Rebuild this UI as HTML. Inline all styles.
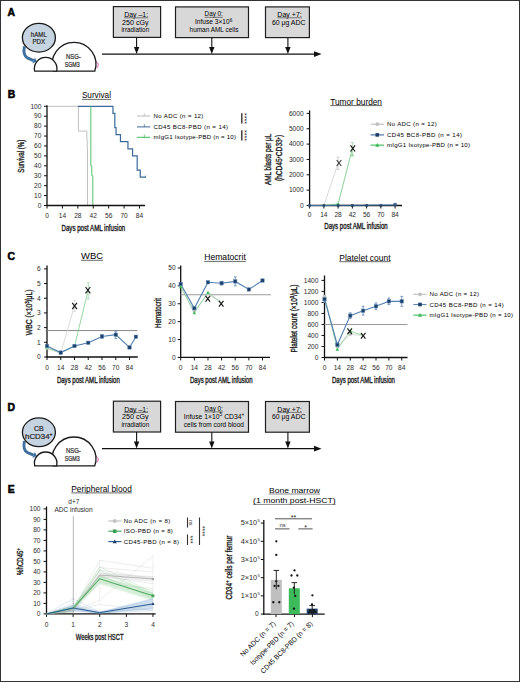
<!DOCTYPE html><html><head><meta charset="utf-8"><style>html,body{margin:0;padding:0;background:#fff;}svg{display:block;font-family:"Liberation Sans",sans-serif;}</style></head><body>
<svg width="520" height="682" viewBox="0 0 520 682">
<rect x="0" y="0" width="520" height="682" fill="#fff"/>
<text x="7.5" y="16.4" font-size="10.4" font-weight="bold" fill="#000" stroke="#000" stroke-width="0.55">A</text>
<path d="M24.4,46.4 C23.4,51.5 23.2,55.6 27.4,57.9 L33.6,60.6" fill="none" stroke="#3d6f9f" stroke-width="2.9"/>
<polygon points="32.4,63.4 34.9,57.4 36.8,61.5" fill="#3d6f9f"/>
<ellipse cx="38.9" cy="37.7" rx="16.5" ry="14.4" fill="#c6d3e0" stroke="#1a1a1a" stroke-width="1.3"/>
<text x="38.8" y="36.6" font-size="7" text-anchor="middle" textLength="16" lengthAdjust="spacingAndGlyphs" fill="#262626" stroke="#262626" stroke-width="0.2">hAML</text>
<text x="38.8" y="44.2" font-size="7" text-anchor="middle" textLength="12.7" lengthAdjust="spacingAndGlyphs" fill="#262626" stroke="#262626" stroke-width="0.2">PDX</text>
<path d="M95.6,61.6 Q100.4,63.6 96.6,68.2" fill="none" stroke="#e05cb0" stroke-width="1.0"/>
<path d="M53.22,71.2 A21.9,21.9 0 1 1 94.78,71.2 Z" fill="#fff" stroke="#1a1a1a" stroke-width="1.3"/>
<text x="73.4" y="58.8" font-size="7" text-anchor="middle" textLength="14.8" lengthAdjust="spacingAndGlyphs" fill="#262626" stroke="#262626" stroke-width="0.2">NSG-</text>
<text x="72.2" y="66.6" font-size="7" text-anchor="middle" textLength="15.1" lengthAdjust="spacingAndGlyphs" fill="#262626" stroke="#262626" stroke-width="0.2">SGM3</text>
<path d="M34.69,71.2 A11.25,11.25 0 1 1 56.61,71.2 Z" fill="#fff" stroke="#1a1a1a" stroke-width="1.3"/>
<line x1="102" y1="54.1" x2="315" y2="54.1" stroke="#111" stroke-width="1.3"/>
<polygon points="314,51.2 321.6,54.1 314,57" fill="#111"/>
<rect x="113.4" y="6.6" width="47.2" height="30.8" fill="#d8d8d8" stroke="#1e1e1e" stroke-width="1.2"/>
<line x1="136.6" y1="37.4" x2="136.6" y2="48.1" stroke="#111" stroke-width="1.1"/>
<polygon points="133.9,46.9 136.6,53.9 139.3,46.9" fill="#111"/>
<text x="136.2" y="16.9" font-size="6.5" text-anchor="middle" textLength="24" lengthAdjust="spacingAndGlyphs">Day &#8211;1:</text>
<line x1="124.2" y1="17.8" x2="148.2" y2="17.8" stroke="#333" stroke-width="0.6"/>
<text x="135.3" y="24.8" font-size="6.5" text-anchor="middle" textLength="26.6" lengthAdjust="spacingAndGlyphs">250 cGy</text>
<text x="135.3" y="32.3" font-size="6.5" text-anchor="middle" textLength="27.7" lengthAdjust="spacingAndGlyphs">irradiation</text>
<rect x="175.5" y="6.9" width="73" height="30.7" fill="#d8d8d8" stroke="#1e1e1e" stroke-width="1.2"/>
<line x1="211.8" y1="37.6" x2="211.8" y2="48.1" stroke="#111" stroke-width="1.1"/>
<polygon points="209.1,46.9 211.8,53.9 214.5,46.9" fill="#111"/>
<text x="213.7" y="16.4" font-size="6.5" text-anchor="middle" textLength="18.2" lengthAdjust="spacingAndGlyphs">Day 0:</text>
<line x1="204.6" y1="17.3" x2="222.8" y2="17.3" stroke="#333" stroke-width="0.6"/>
<text x="213.65" y="24.2" font-size="6.5" text-anchor="middle" textLength="37.3" lengthAdjust="spacingAndGlyphs">Infuse 3&#215;10<tspan font-size="4.6" dy="-2.6">6</tspan></text>
<text x="214" y="32.4" font-size="6.5" text-anchor="middle" textLength="48.8" lengthAdjust="spacingAndGlyphs">human AML cells</text>
<rect x="265.5" y="6.9" width="43.9" height="30.7" fill="#d8d8d8" stroke="#1e1e1e" stroke-width="1.2"/>
<line x1="287.9" y1="37.6" x2="287.9" y2="48.1" stroke="#111" stroke-width="1.1"/>
<polygon points="285.2,46.9 287.9,53.9 290.6,46.9" fill="#111"/>
<text x="289.6" y="16.9" font-size="6.5" text-anchor="middle" textLength="24.5" lengthAdjust="spacingAndGlyphs">Day +7:</text>
<line x1="277.35" y1="17.8" x2="301.85" y2="17.8" stroke="#333" stroke-width="0.6"/>
<text x="288.7" y="24.5" font-size="6.5" text-anchor="middle" textLength="33.5" lengthAdjust="spacingAndGlyphs">60 &#956;g ADC</text>
<text x="7.5" y="411" font-size="10.4" font-weight="bold" fill="#000" stroke="#000" stroke-width="0.55">D</text>
<path d="M24.4,441 C23.4,446.1 23.2,450.2 27.4,452.5 L33.6,455.2" fill="none" stroke="#3d6f9f" stroke-width="2.9"/>
<polygon points="32.4,458 34.9,452 36.8,456.1" fill="#3d6f9f"/>
<ellipse cx="38.9" cy="432.3" rx="16.5" ry="14.4" fill="#c6d3e0" stroke="#1a1a1a" stroke-width="1.3"/>
<text x="38.8" y="431.2" font-size="7" text-anchor="middle" fill="#262626" stroke="#262626" stroke-width="0.2">CB</text>
<text x="38.8" y="438.8" font-size="7" text-anchor="middle" textLength="27.5" lengthAdjust="spacingAndGlyphs" fill="#262626" stroke="#262626" stroke-width="0.2">hCD34<tspan font-size="4.6" dy="-2.6">+</tspan></text>
<path d="M95.6,456.2 Q100.4,458.2 96.6,462.8" fill="none" stroke="#e05cb0" stroke-width="1.0"/>
<path d="M53.22,465.8 A21.9,21.9 0 1 1 94.78,465.8 Z" fill="#fff" stroke="#1a1a1a" stroke-width="1.3"/>
<text x="73.4" y="453.4" font-size="7" text-anchor="middle" textLength="14.8" lengthAdjust="spacingAndGlyphs" fill="#262626" stroke="#262626" stroke-width="0.2">NSG-</text>
<text x="72.2" y="461.2" font-size="7" text-anchor="middle" textLength="15.1" lengthAdjust="spacingAndGlyphs" fill="#262626" stroke="#262626" stroke-width="0.2">SGM3</text>
<path d="M34.69,465.8 A11.25,11.25 0 1 1 56.61,465.8 Z" fill="#fff" stroke="#1a1a1a" stroke-width="1.3"/>
<line x1="102" y1="448.7" x2="315" y2="448.7" stroke="#111" stroke-width="1.3"/>
<polygon points="314,445.8 321.6,448.7 314,451.6" fill="#111"/>
<rect x="113.4" y="401.2" width="47.2" height="30.8" fill="#d8d8d8" stroke="#1e1e1e" stroke-width="1.2"/>
<line x1="136.6" y1="432" x2="136.6" y2="442.7" stroke="#111" stroke-width="1.1"/>
<polygon points="133.9,441.5 136.6,448.5 139.3,441.5" fill="#111"/>
<text x="136.2" y="411.5" font-size="6.5" text-anchor="middle" textLength="24" lengthAdjust="spacingAndGlyphs">Day &#8211;1:</text>
<line x1="124.2" y1="412.4" x2="148.2" y2="412.4" stroke="#333" stroke-width="0.6"/>
<text x="135.3" y="419.4" font-size="6.5" text-anchor="middle" textLength="26.6" lengthAdjust="spacingAndGlyphs">250 cGy</text>
<text x="135.3" y="426.9" font-size="6.5" text-anchor="middle" textLength="27.7" lengthAdjust="spacingAndGlyphs">irradiation</text>
<rect x="175.5" y="401.5" width="73" height="30.7" fill="#d8d8d8" stroke="#1e1e1e" stroke-width="1.2"/>
<line x1="211.8" y1="432.2" x2="211.8" y2="442.7" stroke="#111" stroke-width="1.1"/>
<polygon points="209.1,441.5 211.8,448.5 214.5,441.5" fill="#111"/>
<text x="213.7" y="411" font-size="6.5" text-anchor="middle" textLength="18.2" lengthAdjust="spacingAndGlyphs">Day 0:</text>
<line x1="204.6" y1="411.9" x2="222.8" y2="411.9" stroke="#333" stroke-width="0.6"/>
<text x="214.1" y="418.9" font-size="6.5" text-anchor="middle" textLength="60.6" lengthAdjust="spacingAndGlyphs">Infuse 1&#215;10<tspan font-size="4.6" dy="-2.6">5</tspan><tspan dy="2.6"> CD34</tspan><tspan font-size="4.6" dy="-2.6">+</tspan></text>
<text x="213.9" y="426.8" font-size="6.5" text-anchor="middle" textLength="60.2" lengthAdjust="spacingAndGlyphs">cells from cord blood</text>
<rect x="265.5" y="401.5" width="43.9" height="30.7" fill="#d8d8d8" stroke="#1e1e1e" stroke-width="1.2"/>
<line x1="287.9" y1="432.2" x2="287.9" y2="442.7" stroke="#111" stroke-width="1.1"/>
<polygon points="285.2,441.5 287.9,448.5 290.6,441.5" fill="#111"/>
<text x="289.6" y="411.5" font-size="6.5" text-anchor="middle" textLength="24.5" lengthAdjust="spacingAndGlyphs">Day +7:</text>
<line x1="277.35" y1="412.4" x2="301.85" y2="412.4" stroke="#333" stroke-width="0.6"/>
<text x="288.7" y="419.1" font-size="6.5" text-anchor="middle" textLength="33.5" lengthAdjust="spacingAndGlyphs">60 &#956;g ADC</text>
<text x="7.8" y="97.6" font-size="10.4" font-weight="bold" fill="#000" stroke="#000" stroke-width="0.55">B</text>
<text x="96.45" y="97.9" font-size="8.3" text-anchor="middle" textLength="29.1" lengthAdjust="spacingAndGlyphs">Survival</text>
<line x1="81.9" y1="99.4" x2="111" y2="99.4" stroke="#444" stroke-width="0.8"/>
<polyline points="47,106.3 78.38,106.3 78.38,131.1 86.86,131.1 86.86,139.33 87.19,139.33 87.19,147.96 87.52,147.96 87.52,205.5" fill="none" stroke="#b9b9b9" stroke-width="0.9"/>
<polyline points="77.83,106.3 112.96,106.3 112.96,113.34 114.83,113.34 114.83,127.53 116.05,127.53 116.05,134.67 120.45,134.67 120.45,141.71 127.94,141.71 127.94,148.86 132.56,148.86 132.56,155.9 137.19,155.9 137.19,170.09 140.27,170.09 140.27,177.13 145.89,177.13" fill="none" stroke="#3a6a9c" stroke-width="1.2"/>
<line x1="145.49" y1="175.63" x2="145.49" y2="177.63" stroke="#3a6a9c" stroke-width="0.7"/>
<polyline points="90.83,106.3 90.83,165.82 91.82,165.82 91.82,175.74 92.81,175.74 92.81,205.5" fill="none" stroke="#4cc065" stroke-width="0.95"/>
<line x1="47" y1="105.3" x2="47" y2="206.1" stroke="#111" stroke-width="1.3"/>
<line x1="46.4" y1="205.5" x2="145" y2="205.5" stroke="#111" stroke-width="1.3"/>
<line x1="44" y1="205.5" x2="47" y2="205.5" stroke="#111" stroke-width="1"/>
<text x="41.4" y="207.7" font-size="6.6" text-anchor="end" fill="#2a2a2a">0</text>
<line x1="44" y1="195.58" x2="47" y2="195.58" stroke="#111" stroke-width="1"/>
<text x="41.4" y="197.78" font-size="6.6" text-anchor="end" fill="#2a2a2a">10</text>
<line x1="44" y1="185.66" x2="47" y2="185.66" stroke="#111" stroke-width="1"/>
<text x="41.4" y="187.86" font-size="6.6" text-anchor="end" fill="#2a2a2a">20</text>
<line x1="44" y1="175.74" x2="47" y2="175.74" stroke="#111" stroke-width="1"/>
<text x="41.4" y="177.94" font-size="6.6" text-anchor="end" fill="#2a2a2a">30</text>
<line x1="44" y1="165.82" x2="47" y2="165.82" stroke="#111" stroke-width="1"/>
<text x="41.4" y="168.02" font-size="6.6" text-anchor="end" fill="#2a2a2a">40</text>
<line x1="44" y1="155.9" x2="47" y2="155.9" stroke="#111" stroke-width="1"/>
<text x="41.4" y="158.1" font-size="6.6" text-anchor="end" fill="#2a2a2a">50</text>
<line x1="44" y1="145.98" x2="47" y2="145.98" stroke="#111" stroke-width="1"/>
<text x="41.4" y="148.18" font-size="6.6" text-anchor="end" fill="#2a2a2a">60</text>
<line x1="44" y1="136.06" x2="47" y2="136.06" stroke="#111" stroke-width="1"/>
<text x="41.4" y="138.26" font-size="6.6" text-anchor="end" fill="#2a2a2a">70</text>
<line x1="44" y1="126.14" x2="47" y2="126.14" stroke="#111" stroke-width="1"/>
<text x="41.4" y="128.34" font-size="6.6" text-anchor="end" fill="#2a2a2a">80</text>
<line x1="44" y1="116.22" x2="47" y2="116.22" stroke="#111" stroke-width="1"/>
<text x="41.4" y="118.42" font-size="6.6" text-anchor="end" fill="#2a2a2a">90</text>
<line x1="44" y1="106.3" x2="47" y2="106.3" stroke="#111" stroke-width="1"/>
<text x="41.4" y="108.5" font-size="6.6" text-anchor="end" fill="#2a2a2a">100</text>
<line x1="47" y1="205.5" x2="47" y2="208.5" stroke="#111" stroke-width="1"/>
<text x="47" y="217.7" font-size="6.6" text-anchor="middle" fill="#2a2a2a">0</text>
<line x1="62.42" y1="205.5" x2="62.42" y2="208.5" stroke="#111" stroke-width="1"/>
<text x="62.42" y="217.7" font-size="6.6" text-anchor="middle" fill="#2a2a2a">14</text>
<line x1="77.83" y1="205.5" x2="77.83" y2="208.5" stroke="#111" stroke-width="1"/>
<text x="77.83" y="217.7" font-size="6.6" text-anchor="middle" fill="#2a2a2a">28</text>
<line x1="93.25" y1="205.5" x2="93.25" y2="208.5" stroke="#111" stroke-width="1"/>
<text x="93.25" y="217.7" font-size="6.6" text-anchor="middle" fill="#2a2a2a">42</text>
<line x1="108.67" y1="205.5" x2="108.67" y2="208.5" stroke="#111" stroke-width="1"/>
<text x="108.67" y="217.7" font-size="6.6" text-anchor="middle" fill="#2a2a2a">56</text>
<line x1="124.08" y1="205.5" x2="124.08" y2="208.5" stroke="#111" stroke-width="1"/>
<text x="124.08" y="217.7" font-size="6.6" text-anchor="middle" fill="#2a2a2a">70</text>
<line x1="139.5" y1="205.5" x2="139.5" y2="208.5" stroke="#111" stroke-width="1"/>
<text x="139.5" y="217.7" font-size="6.6" text-anchor="middle" fill="#2a2a2a">84</text>
<text x="93.35" y="231.1" font-size="8.4" text-anchor="middle" textLength="63.7" lengthAdjust="spacingAndGlyphs" fill="#1a1a1a" stroke="#1a1a1a" stroke-width="0.35">Days post AML infusion</text>
<text x="24.3" y="156.2" font-size="8.6" text-anchor="middle" textLength="33" lengthAdjust="spacingAndGlyphs" fill="#1a1a1a" transform="rotate(-90 24.3 156.2)" stroke="#1a1a1a" stroke-width="0.35">Survival (%)</text>
<line x1="137" y1="116" x2="150.3" y2="116" stroke="#b9b9b9" stroke-width="1"/>
<line x1="144.3" y1="113.4" x2="144.3" y2="116" stroke="#b9b9b9" stroke-width="0.8"/>
<text x="153.5" y="118.1" font-size="6.1" textLength="49.9" lengthAdjust="spacing">No ADC (n = 12)</text>
<line x1="137" y1="126.9" x2="150.3" y2="126.9" stroke="#3a6a9c" stroke-width="1"/>
<line x1="144.3" y1="124.3" x2="144.3" y2="126.9" stroke="#3a6a9c" stroke-width="0.8"/>
<text x="153.5" y="129" font-size="6.1" textLength="74.5" lengthAdjust="spacing">CD45 BC8-PBD (n = 14)</text>
<line x1="137" y1="137.3" x2="150.3" y2="137.3" stroke="#3dbb5a" stroke-width="1"/>
<line x1="144.3" y1="134.7" x2="144.3" y2="137.3" stroke="#3dbb5a" stroke-width="0.8"/>
<text x="153.5" y="139.4" font-size="6.1" textLength="82.5" lengthAdjust="spacing">mIgG1 Isotype-PBD (n = 10)</text>
<line x1="241.8" y1="113.3" x2="241.8" y2="123.6" stroke="#333" stroke-width="1.4"/>
<text x="242.2" y="118.5" font-size="7" text-anchor="middle" fill="#222" transform="rotate(90 242.2 118.5)">****</text>
<line x1="241.8" y1="130.2" x2="241.8" y2="140.5" stroke="#333" stroke-width="1.4"/>
<text x="242.2" y="135.5" font-size="7" text-anchor="middle" fill="#222" transform="rotate(90 242.2 135.5)">****</text>
<text x="356.1" y="104.5" font-size="8.3" text-anchor="middle" textLength="51.8" lengthAdjust="spacingAndGlyphs">Tumor burden</text>
<line x1="330.2" y1="105.6" x2="382" y2="105.6" stroke="#444" stroke-width="0.8"/>
<line x1="309.6" y1="110.4" x2="309.6" y2="206.1" stroke="#111" stroke-width="1.3"/>
<line x1="309" y1="205.5" x2="402" y2="205.5" stroke="#111" stroke-width="1.3"/>
<line x1="306.6" y1="205.5" x2="309.6" y2="205.5" stroke="#111" stroke-width="1"/>
<text x="303.6" y="207.7" font-size="6.6" text-anchor="end" fill="#2a2a2a">0</text>
<line x1="306.6" y1="190.15" x2="309.6" y2="190.15" stroke="#111" stroke-width="1"/>
<text x="303.6" y="192.35" font-size="6.6" text-anchor="end" fill="#2a2a2a">1000</text>
<line x1="306.6" y1="174.8" x2="309.6" y2="174.8" stroke="#111" stroke-width="1"/>
<text x="303.6" y="177" font-size="6.6" text-anchor="end" fill="#2a2a2a">2000</text>
<line x1="306.6" y1="159.45" x2="309.6" y2="159.45" stroke="#111" stroke-width="1"/>
<text x="303.6" y="161.65" font-size="6.6" text-anchor="end" fill="#2a2a2a">3000</text>
<line x1="306.6" y1="144.1" x2="309.6" y2="144.1" stroke="#111" stroke-width="1"/>
<text x="303.6" y="146.3" font-size="6.6" text-anchor="end" fill="#2a2a2a">4000</text>
<line x1="306.6" y1="128.75" x2="309.6" y2="128.75" stroke="#111" stroke-width="1"/>
<text x="303.6" y="130.95" font-size="6.6" text-anchor="end" fill="#2a2a2a">5000</text>
<line x1="306.6" y1="113.4" x2="309.6" y2="113.4" stroke="#111" stroke-width="1"/>
<text x="303.6" y="115.6" font-size="6.6" text-anchor="end" fill="#2a2a2a">6000</text>
<line x1="309.6" y1="205.5" x2="309.6" y2="208.5" stroke="#111" stroke-width="1"/>
<text x="309.6" y="216.6" font-size="6.6" text-anchor="middle" fill="#2a2a2a">0</text>
<line x1="323.85" y1="205.5" x2="323.85" y2="208.5" stroke="#111" stroke-width="1"/>
<text x="323.85" y="216.6" font-size="6.6" text-anchor="middle" fill="#2a2a2a">14</text>
<line x1="338.1" y1="205.5" x2="338.1" y2="208.5" stroke="#111" stroke-width="1"/>
<text x="338.1" y="216.6" font-size="6.6" text-anchor="middle" fill="#2a2a2a">28</text>
<line x1="352.35" y1="205.5" x2="352.35" y2="208.5" stroke="#111" stroke-width="1"/>
<text x="352.35" y="216.6" font-size="6.6" text-anchor="middle" fill="#2a2a2a">42</text>
<line x1="366.6" y1="205.5" x2="366.6" y2="208.5" stroke="#111" stroke-width="1"/>
<text x="366.6" y="216.6" font-size="6.6" text-anchor="middle" fill="#2a2a2a">56</text>
<line x1="380.85" y1="205.5" x2="380.85" y2="208.5" stroke="#111" stroke-width="1"/>
<text x="380.85" y="216.6" font-size="6.6" text-anchor="middle" fill="#2a2a2a">70</text>
<line x1="395.1" y1="205.5" x2="395.1" y2="208.5" stroke="#111" stroke-width="1"/>
<text x="395.1" y="216.6" font-size="6.6" text-anchor="middle" fill="#2a2a2a">84</text>
<polyline points="309.6,205.5 323.85,205.5 338.1,163.29" fill="none" stroke="#d0d0d0" stroke-width="0.8"/>
<line x1="338.1" y1="157.15" x2="338.1" y2="169.43" stroke="#c8c8c8" stroke-width="0.8"/>
<line x1="336.6" y1="157.15" x2="339.6" y2="157.15" stroke="#c8c8c8" stroke-width="0.8"/>
<line x1="336.6" y1="169.43" x2="339.6" y2="169.43" stroke="#c8c8c8" stroke-width="0.8"/>
<polyline points="309.6,205.5 323.85,205.5 338.1,203.97 352.35,148.7" fill="none" stroke="#6cc47c" stroke-width="0.8"/>
<line x1="352.35" y1="142.56" x2="352.35" y2="155.61" stroke="#9ad7a6" stroke-width="0.8"/>
<line x1="350.85" y1="142.56" x2="353.85" y2="142.56" stroke="#9ad7a6" stroke-width="0.8"/>
<line x1="350.85" y1="155.61" x2="353.85" y2="155.61" stroke="#9ad7a6" stroke-width="0.8"/>
<circle cx="309.6" cy="205.5" r="1.5" fill="#c4c4c4" stroke="none" stroke-width="1"/>
<circle cx="323.85" cy="205.5" r="1.5" fill="#c4c4c4" stroke="none" stroke-width="1"/>
<polygon points="336.3,205.37 339.9,205.37 338.1,202.16" fill="#3dbb5a"/>
<line x1="309.6" y1="205.5" x2="395.1" y2="205.04" stroke="#3f6f9f" stroke-width="1"/>
<rect x="308.3" y="204.2" width="2.6" height="2.6" fill="#23466f" stroke="none" stroke-width="1"/>
<rect x="322.55" y="204.2" width="2.6" height="2.6" fill="#23466f" stroke="none" stroke-width="1"/>
<rect x="336.8" y="204.2" width="2.6" height="2.6" fill="#23466f" stroke="none" stroke-width="1"/>
<rect x="351.05" y="204.2" width="2.6" height="2.6" fill="#23466f" stroke="none" stroke-width="1"/>
<rect x="365.3" y="204.2" width="2.6" height="2.6" fill="#23466f" stroke="none" stroke-width="1"/>
<rect x="379.55" y="204.2" width="2.6" height="2.6" fill="#23466f" stroke="none" stroke-width="1"/>
<rect x="393.6" y="203.08" width="3" height="3" fill="#23466f" stroke="none" stroke-width="1"/>
<line x1="395.1" y1="202.74" x2="395.1" y2="205.5" stroke="#5f8cbb" stroke-width="0.7"/>
<polygon points="350.75,156.15 353.95,156.15 352.35,153.25" fill="#8fd39b"/>
<path d="M336.7,160 L341.3,166 M341.3,160 L336.7,166" stroke="#333" stroke-width="1.05" fill="none"/>
<path d="M350.5,145.3 L355.1,151.5 M355.1,145.3 L350.5,151.5" stroke="#161616" stroke-width="1.15" fill="none"/>
<text x="356" y="228.8" font-size="8.4" text-anchor="middle" textLength="63.4" lengthAdjust="spacingAndGlyphs" fill="#1a1a1a" stroke="#1a1a1a" stroke-width="0.35">Days post AML infusion</text>
<text x="271.4" y="159.4" font-size="9" text-anchor="middle" textLength="51.3" lengthAdjust="spacingAndGlyphs" fill="#1a1a1a" transform="rotate(-90 271.4 159.4)" stroke="#1a1a1a" stroke-width="0.35">AML blasts per &#956;L</text>
<text x="282.2" y="158" font-size="9" text-anchor="middle" textLength="46.2" lengthAdjust="spacingAndGlyphs" fill="#1a1a1a" transform="rotate(-90 282.2 158)" stroke="#1a1a1a" stroke-width="0.35">(hCD45<tspan font-size="5" dy="-2.6">+</tspan><tspan dy="2.6">CD33</tspan><tspan font-size="5" dy="-2.6">+</tspan><tspan dy="2.6">)</tspan></text>
<line x1="370.6" y1="124.2" x2="384" y2="124.2" stroke="#bdbdbd" stroke-width="1.1"/>
<circle cx="377.3" cy="124.2" r="1.9" fill="#c0c0c0" stroke="none" stroke-width="1"/>
<text x="387" y="126.3" font-size="6.1" textLength="49.7" lengthAdjust="spacing">No ADC (n = 12)</text>
<line x1="370.6" y1="134.9" x2="384" y2="134.9" stroke="#3a6a9c" stroke-width="1.1"/>
<rect x="375.5" y="133.1" width="3.6" height="3.6" fill="#1d3f69" stroke="none" stroke-width="1"/>
<text x="387" y="137" font-size="6.1" textLength="75" lengthAdjust="spacing">CD45 BC8-PBD (n = 14)</text>
<line x1="370.6" y1="145.1" x2="384" y2="145.1" stroke="#3dbb5a" stroke-width="1.1"/>
<polygon points="375.2,146.7 379.4,146.7 377.3,143" fill="#3dbb5a"/>
<text x="387" y="147.2" font-size="6.1" textLength="83" lengthAdjust="spacing">mIgG1 Isotype-PBD (n = 10)</text>
<text x="7.5" y="259.6" font-size="10.4" font-weight="bold" fill="#000" stroke="#000" stroke-width="0.55">C</text>
<text x="92" y="259.2" font-size="8.3" text-anchor="middle" textLength="22" lengthAdjust="spacingAndGlyphs">WBC</text>
<line x1="81" y1="260.3" x2="103" y2="260.3" stroke="#444" stroke-width="0.8"/>
<line x1="47" y1="265.4" x2="47" y2="357.6" stroke="#111" stroke-width="1.3"/>
<line x1="46.4" y1="357" x2="137.8" y2="357" stroke="#111" stroke-width="1.3"/>
<line x1="44" y1="357" x2="47" y2="357" stroke="#111" stroke-width="1"/>
<text x="40.6" y="359.3" font-size="6.6" text-anchor="end" fill="#2a2a2a">0</text>
<line x1="44" y1="342.31" x2="47" y2="342.31" stroke="#111" stroke-width="1"/>
<text x="40.6" y="344.61" font-size="6.6" text-anchor="end" fill="#2a2a2a">1</text>
<line x1="44" y1="327.62" x2="47" y2="327.62" stroke="#111" stroke-width="1"/>
<text x="40.6" y="329.92" font-size="6.6" text-anchor="end" fill="#2a2a2a">2</text>
<line x1="44" y1="312.93" x2="47" y2="312.93" stroke="#111" stroke-width="1"/>
<text x="40.6" y="315.23" font-size="6.6" text-anchor="end" fill="#2a2a2a">3</text>
<line x1="44" y1="298.24" x2="47" y2="298.24" stroke="#111" stroke-width="1"/>
<text x="40.6" y="300.54" font-size="6.6" text-anchor="end" fill="#2a2a2a">4</text>
<line x1="44" y1="283.55" x2="47" y2="283.55" stroke="#111" stroke-width="1"/>
<text x="40.6" y="285.85" font-size="6.6" text-anchor="end" fill="#2a2a2a">5</text>
<line x1="44" y1="268.86" x2="47" y2="268.86" stroke="#111" stroke-width="1"/>
<text x="40.6" y="271.16" font-size="6.6" text-anchor="end" fill="#2a2a2a">6</text>
<line x1="47" y1="357" x2="47" y2="360" stroke="#111" stroke-width="1"/>
<text x="47" y="370" font-size="6.6" text-anchor="middle" fill="#2a2a2a">0</text>
<line x1="60.75" y1="357" x2="60.75" y2="360" stroke="#111" stroke-width="1"/>
<text x="60.75" y="370" font-size="6.6" text-anchor="middle" fill="#2a2a2a">14</text>
<line x1="74.5" y1="357" x2="74.5" y2="360" stroke="#111" stroke-width="1"/>
<text x="74.5" y="370" font-size="6.6" text-anchor="middle" fill="#2a2a2a">28</text>
<line x1="88.25" y1="357" x2="88.25" y2="360" stroke="#111" stroke-width="1"/>
<text x="88.25" y="370" font-size="6.6" text-anchor="middle" fill="#2a2a2a">42</text>
<line x1="102" y1="357" x2="102" y2="360" stroke="#111" stroke-width="1"/>
<text x="102" y="370" font-size="6.6" text-anchor="middle" fill="#2a2a2a">56</text>
<line x1="115.75" y1="357" x2="115.75" y2="360" stroke="#111" stroke-width="1"/>
<text x="115.75" y="370" font-size="6.6" text-anchor="middle" fill="#2a2a2a">70</text>
<line x1="129.5" y1="357" x2="129.5" y2="360" stroke="#111" stroke-width="1"/>
<text x="129.5" y="370" font-size="6.6" text-anchor="middle" fill="#2a2a2a">84</text>
<line x1="45.5" y1="330.56" x2="137.2" y2="330.56" stroke="#7a7a7a" stroke-width="0.9"/>
<polyline points="47,348.19 60.75,353.33 74.5,305.58" fill="none" stroke="#d2d2d2" stroke-width="0.8"/>
<line x1="74.5" y1="300.44" x2="74.5" y2="311.46" stroke="#d8d8d8" stroke-width="0.8"/>
<line x1="73.1" y1="300.44" x2="75.9" y2="300.44" stroke="#d8d8d8" stroke-width="0.8"/>
<line x1="73.1" y1="311.46" x2="75.9" y2="311.46" stroke="#d8d8d8" stroke-width="0.8"/>
<polyline points="47,348.19 60.75,352.59 74.5,346.42 88.25,289.87" fill="none" stroke="#7fcb8c" stroke-width="0.8"/>
<line x1="88.25" y1="282.82" x2="88.25" y2="298.97" stroke="#9ad7a6" stroke-width="0.8"/>
<line x1="86.85" y1="282.82" x2="89.65" y2="282.82" stroke="#9ad7a6" stroke-width="0.8"/>
<line x1="86.85" y1="298.97" x2="89.65" y2="298.97" stroke="#9ad7a6" stroke-width="0.8"/>
<polyline points="47,345.98 60.75,352.59 74.5,345.98 88.25,342.75 102,336.43 115.75,334.67 129.5,347.45 135.88,336.73" fill="none" stroke="#4f7fb2" stroke-width="1.1"/>
<line x1="115.75" y1="331.29" x2="115.75" y2="338.64" stroke="#5d87b3" stroke-width="0.8"/>
<line x1="114.35" y1="331.29" x2="117.15" y2="331.29" stroke="#5d87b3" stroke-width="0.8"/>
<line x1="114.35" y1="338.64" x2="117.15" y2="338.64" stroke="#5d87b3" stroke-width="0.8"/>
<line x1="102" y1="334.96" x2="102" y2="338.2" stroke="#5d87b3" stroke-width="0.8"/>
<line x1="100.6" y1="334.96" x2="103.4" y2="334.96" stroke="#5d87b3" stroke-width="0.8"/>
<line x1="100.6" y1="338.2" x2="103.4" y2="338.2" stroke="#5d87b3" stroke-width="0.8"/>
<circle cx="47" cy="348.19" r="1.6" fill="#c0c0c0" stroke="none" stroke-width="1"/>
<circle cx="60.75" cy="353.33" r="1.6" fill="#c0c0c0" stroke="none" stroke-width="1"/>
<polygon points="45.2,349.63 48.8,349.63 47,346.39" fill="#8fd09d"/>
<polygon points="58.95,354.03 62.55,354.03 60.75,350.79" fill="#8fd09d"/>
<rect x="45.3" y="344.28" width="3.4" height="3.4" fill="#1d406b" stroke="#5a86b4" stroke-width="0.5"/>
<rect x="59.05" y="350.89" width="3.4" height="3.4" fill="#1d406b" stroke="#5a86b4" stroke-width="0.5"/>
<rect x="72.8" y="344.28" width="3.4" height="3.4" fill="#1d406b" stroke="#5a86b4" stroke-width="0.5"/>
<rect x="86.55" y="341.05" width="3.4" height="3.4" fill="#1d406b" stroke="#5a86b4" stroke-width="0.5"/>
<rect x="100.3" y="334.73" width="3.4" height="3.4" fill="#1d406b" stroke="#5a86b4" stroke-width="0.5"/>
<rect x="114.05" y="332.97" width="3.4" height="3.4" fill="#1d406b" stroke="#5a86b4" stroke-width="0.5"/>
<rect x="127.8" y="345.75" width="3.4" height="3.4" fill="#1d406b" stroke="#5a86b4" stroke-width="0.5"/>
<rect x="134.18" y="335.03" width="3.4" height="3.4" fill="#1d406b" stroke="#5a86b4" stroke-width="0.5"/>
<path d="M72.2,302.8 L77,309.2 M77,302.8 L72.2,309.2" stroke="#161616" stroke-width="1.15" fill="none"/>
<path d="M85.5,287 L90.3,293.4 M90.3,287 L85.5,293.4" stroke="#161616" stroke-width="1.15" fill="none"/>
<text x="88.35" y="382.7" font-size="8.4" text-anchor="middle" textLength="62.9" lengthAdjust="spacingAndGlyphs" fill="#1a1a1a" stroke="#1a1a1a" stroke-width="0.35">Days post AML infusion</text>
<text x="31.6" y="312.4" font-size="8.6" text-anchor="middle" textLength="45.7" lengthAdjust="spacingAndGlyphs" fill="#1a1a1a" transform="rotate(-90 31.6 312.4)" stroke="#1a1a1a" stroke-width="0.35">WBC (&#215;10<tspan font-size="5.5" dy="-2.8">3</tspan><tspan dy="2.8">/&#956;L)</tspan></text>
<text x="225" y="260.3" font-size="8.3" text-anchor="middle" textLength="41.6" lengthAdjust="spacingAndGlyphs">Hematocrit</text>
<line x1="204.2" y1="261.4" x2="245.8" y2="261.4" stroke="#444" stroke-width="0.8"/>
<line x1="180.7" y1="265.5" x2="180.7" y2="358" stroke="#111" stroke-width="1.3"/>
<line x1="180.1" y1="357.4" x2="270" y2="357.4" stroke="#111" stroke-width="1.3"/>
<line x1="177.7" y1="357.4" x2="180.7" y2="357.4" stroke="#111" stroke-width="1"/>
<text x="175.6" y="359.7" font-size="6.6" text-anchor="end" fill="#2a2a2a">0</text>
<line x1="177.7" y1="339.52" x2="180.7" y2="339.52" stroke="#111" stroke-width="1"/>
<text x="175.6" y="341.82" font-size="6.6" text-anchor="end" fill="#2a2a2a">10</text>
<line x1="177.7" y1="321.64" x2="180.7" y2="321.64" stroke="#111" stroke-width="1"/>
<text x="175.6" y="323.94" font-size="6.6" text-anchor="end" fill="#2a2a2a">20</text>
<line x1="177.7" y1="303.76" x2="180.7" y2="303.76" stroke="#111" stroke-width="1"/>
<text x="175.6" y="306.06" font-size="6.6" text-anchor="end" fill="#2a2a2a">30</text>
<line x1="177.7" y1="285.88" x2="180.7" y2="285.88" stroke="#111" stroke-width="1"/>
<text x="175.6" y="288.18" font-size="6.6" text-anchor="end" fill="#2a2a2a">40</text>
<line x1="177.7" y1="268" x2="180.7" y2="268" stroke="#111" stroke-width="1"/>
<text x="175.6" y="270.3" font-size="6.6" text-anchor="end" fill="#2a2a2a">50</text>
<line x1="180.7" y1="357.4" x2="180.7" y2="360.4" stroke="#111" stroke-width="1"/>
<text x="180.7" y="370" font-size="6.6" text-anchor="middle" fill="#2a2a2a">0</text>
<line x1="194.33" y1="357.4" x2="194.33" y2="360.4" stroke="#111" stroke-width="1"/>
<text x="194.33" y="370" font-size="6.6" text-anchor="middle" fill="#2a2a2a">14</text>
<line x1="207.97" y1="357.4" x2="207.97" y2="360.4" stroke="#111" stroke-width="1"/>
<text x="207.97" y="370" font-size="6.6" text-anchor="middle" fill="#2a2a2a">28</text>
<line x1="221.6" y1="357.4" x2="221.6" y2="360.4" stroke="#111" stroke-width="1"/>
<text x="221.6" y="370" font-size="6.6" text-anchor="middle" fill="#2a2a2a">42</text>
<line x1="235.23" y1="357.4" x2="235.23" y2="360.4" stroke="#111" stroke-width="1"/>
<text x="235.23" y="370" font-size="6.6" text-anchor="middle" fill="#2a2a2a">56</text>
<line x1="248.87" y1="357.4" x2="248.87" y2="360.4" stroke="#111" stroke-width="1"/>
<text x="248.87" y="370" font-size="6.6" text-anchor="middle" fill="#2a2a2a">70</text>
<line x1="262.5" y1="357.4" x2="262.5" y2="360.4" stroke="#111" stroke-width="1"/>
<text x="262.5" y="370" font-size="6.6" text-anchor="middle" fill="#2a2a2a">84</text>
<line x1="180.7" y1="294.82" x2="271" y2="294.82" stroke="#9a9a9a" stroke-width="1.1"/>
<polyline points="180.7,285.88 194.33,310.91 207.97,293.93 221.6,302.87" fill="none" stroke="#d2d2d2" stroke-width="0.8"/>
<polyline points="180.7,286.77 194.33,312.7 207.97,292.5 221.6,302.87" fill="none" stroke="#7fcb8c" stroke-width="0.8"/>
<polyline points="180.7,284.09 194.33,308.23 207.97,282.3 221.6,283.2 235.23,281.41 248.87,289.46 262.5,280.52" fill="none" stroke="#4f7fb2" stroke-width="1.1"/>
<line x1="235.23" y1="276.94" x2="235.23" y2="285.88" stroke="#5d87b3" stroke-width="0.8"/>
<line x1="233.83" y1="276.94" x2="236.63" y2="276.94" stroke="#5d87b3" stroke-width="0.8"/>
<line x1="233.83" y1="285.88" x2="236.63" y2="285.88" stroke="#5d87b3" stroke-width="0.8"/>
<line x1="221.6" y1="281.41" x2="221.6" y2="284.99" stroke="#5d87b3" stroke-width="0.8"/>
<line x1="220.2" y1="281.41" x2="223" y2="281.41" stroke="#5d87b3" stroke-width="0.8"/>
<line x1="220.2" y1="284.99" x2="223" y2="284.99" stroke="#5d87b3" stroke-width="0.8"/>
<circle cx="180.7" cy="285.88" r="1.6" fill="#c0c0c0" stroke="none" stroke-width="1"/>
<circle cx="194.33" cy="310.91" r="1.6" fill="#c0c0c0" stroke="none" stroke-width="1"/>
<polygon points="192.53,314.14 196.13,314.14 194.33,310.9" fill="#3dbb5a"/>
<polygon points="206.17,293.94 209.77,293.94 207.97,290.7" fill="#3dbb5a"/>
<polygon points="178.9,288.21 182.5,288.21 180.7,284.97" fill="#3dbb5a"/>
<rect x="179" y="282.39" width="3.4" height="3.4" fill="#1d406b" stroke="#5a86b4" stroke-width="0.5"/>
<rect x="192.63" y="306.53" width="3.4" height="3.4" fill="#1d406b" stroke="#5a86b4" stroke-width="0.5"/>
<rect x="206.27" y="280.6" width="3.4" height="3.4" fill="#1d406b" stroke="#5a86b4" stroke-width="0.5"/>
<rect x="219.9" y="281.5" width="3.4" height="3.4" fill="#1d406b" stroke="#5a86b4" stroke-width="0.5"/>
<rect x="233.53" y="279.71" width="3.4" height="3.4" fill="#1d406b" stroke="#5a86b4" stroke-width="0.5"/>
<rect x="247.17" y="287.76" width="3.4" height="3.4" fill="#1d406b" stroke="#5a86b4" stroke-width="0.5"/>
<rect x="260.8" y="278.82" width="3.4" height="3.4" fill="#1d406b" stroke="#5a86b4" stroke-width="0.5"/>
<path d="M205.5,295.9 L210.1,301.7 M210.1,295.9 L205.5,301.7" stroke="#161616" stroke-width="1.15" fill="none"/>
<path d="M218.9,300.9 L223.5,306.7 M223.5,300.9 L218.9,306.7" stroke="#161616" stroke-width="1.15" fill="none"/>
<text x="221.25" y="382.7" font-size="8.4" text-anchor="middle" textLength="62.5" lengthAdjust="spacingAndGlyphs" fill="#1a1a1a" stroke="#1a1a1a" stroke-width="0.35">Days post AML infusion</text>
<text x="161" y="313" font-size="8.2" text-anchor="middle" textLength="30" lengthAdjust="spacingAndGlyphs" fill="#1a1a1a" transform="rotate(-90 161 313)" stroke="#1a1a1a" stroke-width="0.35">Hematocrit</text>
<text x="364.9" y="260.6" font-size="8.3" text-anchor="middle" textLength="51.2" lengthAdjust="spacingAndGlyphs">Platelet count</text>
<line x1="339.3" y1="261.7" x2="390.5" y2="261.7" stroke="#444" stroke-width="0.8"/>
<line x1="324.5" y1="275.5" x2="324.5" y2="358.1" stroke="#111" stroke-width="1.3"/>
<line x1="323.9" y1="357.5" x2="407.5" y2="357.5" stroke="#111" stroke-width="1.3"/>
<line x1="321.5" y1="357.5" x2="324.5" y2="357.5" stroke="#111" stroke-width="1"/>
<text x="318.4" y="359.8" font-size="6.6" text-anchor="end" fill="#2a2a2a">0</text>
<line x1="321.5" y1="346.49" x2="324.5" y2="346.49" stroke="#111" stroke-width="1"/>
<text x="318.4" y="348.79" font-size="6.6" text-anchor="end" fill="#2a2a2a">200</text>
<line x1="321.5" y1="335.47" x2="324.5" y2="335.47" stroke="#111" stroke-width="1"/>
<text x="318.4" y="337.77" font-size="6.6" text-anchor="end" fill="#2a2a2a">400</text>
<line x1="321.5" y1="324.46" x2="324.5" y2="324.46" stroke="#111" stroke-width="1"/>
<text x="318.4" y="326.76" font-size="6.6" text-anchor="end" fill="#2a2a2a">600</text>
<line x1="321.5" y1="313.44" x2="324.5" y2="313.44" stroke="#111" stroke-width="1"/>
<text x="318.4" y="315.74" font-size="6.6" text-anchor="end" fill="#2a2a2a">800</text>
<line x1="321.5" y1="302.43" x2="324.5" y2="302.43" stroke="#111" stroke-width="1"/>
<text x="318.4" y="304.73" font-size="6.6" text-anchor="end" fill="#2a2a2a">1000</text>
<line x1="321.5" y1="291.42" x2="324.5" y2="291.42" stroke="#111" stroke-width="1"/>
<text x="318.4" y="293.72" font-size="6.6" text-anchor="end" fill="#2a2a2a">1200</text>
<line x1="321.5" y1="280.4" x2="324.5" y2="280.4" stroke="#111" stroke-width="1"/>
<text x="318.4" y="282.7" font-size="6.6" text-anchor="end" fill="#2a2a2a">1400</text>
<line x1="324.5" y1="357.5" x2="324.5" y2="360.5" stroke="#111" stroke-width="1"/>
<text x="324.5" y="370" font-size="6.6" text-anchor="middle" fill="#2a2a2a">0</text>
<line x1="337.37" y1="357.5" x2="337.37" y2="360.5" stroke="#111" stroke-width="1"/>
<text x="337.37" y="370" font-size="6.6" text-anchor="middle" fill="#2a2a2a">14</text>
<line x1="350.25" y1="357.5" x2="350.25" y2="360.5" stroke="#111" stroke-width="1"/>
<text x="350.25" y="370" font-size="6.6" text-anchor="middle" fill="#2a2a2a">28</text>
<line x1="363.12" y1="357.5" x2="363.12" y2="360.5" stroke="#111" stroke-width="1"/>
<text x="363.12" y="370" font-size="6.6" text-anchor="middle" fill="#2a2a2a">42</text>
<line x1="376" y1="357.5" x2="376" y2="360.5" stroke="#111" stroke-width="1"/>
<text x="376" y="370" font-size="6.6" text-anchor="middle" fill="#2a2a2a">56</text>
<line x1="388.87" y1="357.5" x2="388.87" y2="360.5" stroke="#111" stroke-width="1"/>
<text x="388.87" y="370" font-size="6.6" text-anchor="middle" fill="#2a2a2a">70</text>
<line x1="401.75" y1="357.5" x2="401.75" y2="360.5" stroke="#111" stroke-width="1"/>
<text x="401.75" y="370" font-size="6.6" text-anchor="middle" fill="#2a2a2a">84</text>
<line x1="324.5" y1="324.46" x2="407.5" y2="324.46" stroke="#9a9a9a" stroke-width="1.1"/>
<polyline points="324.5,296.37 337.37,346.49 350.25,334.37 363.12,335.47" fill="none" stroke="#d2d2d2" stroke-width="0.8"/>
<polyline points="324.5,296.92 337.37,349.24 350.25,331.07 363.12,335.47" fill="none" stroke="#7fcb8c" stroke-width="0.8"/>
<polyline points="324.5,299.13 337.37,344.83 350.25,315.65 363.12,310.69 376,306.28 388.87,301.33 401.75,301.33" fill="none" stroke="#4f7fb2" stroke-width="1.1"/>
<line x1="324.5" y1="295.82" x2="324.5" y2="302.43" stroke="#5d87b3" stroke-width="0.8"/>
<line x1="323.1" y1="295.82" x2="325.9" y2="295.82" stroke="#5d87b3" stroke-width="0.8"/>
<line x1="323.1" y1="302.43" x2="325.9" y2="302.43" stroke="#5d87b3" stroke-width="0.8"/>
<line x1="337.37" y1="342.63" x2="337.37" y2="347.04" stroke="#5d87b3" stroke-width="0.8"/>
<line x1="335.97" y1="342.63" x2="338.77" y2="342.63" stroke="#5d87b3" stroke-width="0.8"/>
<line x1="335.97" y1="347.04" x2="338.77" y2="347.04" stroke="#5d87b3" stroke-width="0.8"/>
<line x1="350.25" y1="312.89" x2="350.25" y2="318.4" stroke="#5d87b3" stroke-width="0.8"/>
<line x1="348.85" y1="312.89" x2="351.65" y2="312.89" stroke="#5d87b3" stroke-width="0.8"/>
<line x1="348.85" y1="318.4" x2="351.65" y2="318.4" stroke="#5d87b3" stroke-width="0.8"/>
<line x1="363.12" y1="306.28" x2="363.12" y2="315.1" stroke="#5d87b3" stroke-width="0.8"/>
<line x1="361.72" y1="306.28" x2="364.52" y2="306.28" stroke="#5d87b3" stroke-width="0.8"/>
<line x1="361.72" y1="315.1" x2="364.52" y2="315.1" stroke="#5d87b3" stroke-width="0.8"/>
<line x1="376" y1="302.98" x2="376" y2="309.59" stroke="#5d87b3" stroke-width="0.8"/>
<line x1="374.6" y1="302.98" x2="377.4" y2="302.98" stroke="#5d87b3" stroke-width="0.8"/>
<line x1="374.6" y1="309.59" x2="377.4" y2="309.59" stroke="#5d87b3" stroke-width="0.8"/>
<line x1="388.87" y1="298.02" x2="388.87" y2="304.63" stroke="#5d87b3" stroke-width="0.8"/>
<line x1="387.47" y1="298.02" x2="390.27" y2="298.02" stroke="#5d87b3" stroke-width="0.8"/>
<line x1="387.47" y1="304.63" x2="390.27" y2="304.63" stroke="#5d87b3" stroke-width="0.8"/>
<line x1="401.75" y1="296.37" x2="401.75" y2="306.28" stroke="#5d87b3" stroke-width="0.8"/>
<line x1="400.35" y1="296.37" x2="403.15" y2="296.37" stroke="#5d87b3" stroke-width="0.8"/>
<line x1="400.35" y1="306.28" x2="403.15" y2="306.28" stroke="#5d87b3" stroke-width="0.8"/>
<circle cx="324.5" cy="296.37" r="1.6" fill="#c0c0c0" stroke="none" stroke-width="1"/>
<circle cx="337.37" cy="346.49" r="1.6" fill="#c0c0c0" stroke="none" stroke-width="1"/>
<circle cx="350.25" cy="334.37" r="1.6" fill="#c0c0c0" stroke="none" stroke-width="1"/>
<polygon points="335.57,350.68 339.17,350.68 337.37,347.44" fill="#3dbb5a"/>
<polygon points="348.45,332.51 352.05,332.51 350.25,329.27" fill="#3dbb5a"/>
<rect x="322.8" y="297.43" width="3.4" height="3.4" fill="#1d406b" stroke="#5a86b4" stroke-width="0.5"/>
<rect x="335.67" y="343.13" width="3.4" height="3.4" fill="#1d406b" stroke="#5a86b4" stroke-width="0.5"/>
<rect x="348.55" y="313.95" width="3.4" height="3.4" fill="#1d406b" stroke="#5a86b4" stroke-width="0.5"/>
<rect x="361.42" y="308.99" width="3.4" height="3.4" fill="#1d406b" stroke="#5a86b4" stroke-width="0.5"/>
<rect x="374.3" y="304.58" width="3.4" height="3.4" fill="#1d406b" stroke="#5a86b4" stroke-width="0.5"/>
<rect x="387.17" y="299.63" width="3.4" height="3.4" fill="#1d406b" stroke="#5a86b4" stroke-width="0.5"/>
<rect x="400.05" y="299.63" width="3.4" height="3.4" fill="#1d406b" stroke="#5a86b4" stroke-width="0.5"/>
<path d="M347.4,328.35 L352,334.15 M352,328.35 L347.4,334.15" stroke="#161616" stroke-width="1.15" fill="none"/>
<path d="M360.9,332.9 L365.5,338.7 M365.5,332.9 L360.9,338.7" stroke="#161616" stroke-width="1.15" fill="none"/>
<text x="363.45" y="382.7" font-size="8.4" text-anchor="middle" textLength="63.1" lengthAdjust="spacingAndGlyphs" fill="#1a1a1a" stroke="#1a1a1a" stroke-width="0.35">Days post AML infusion</text>
<text x="297.2" y="318.5" font-size="8.6" text-anchor="middle" textLength="68" lengthAdjust="spacingAndGlyphs" fill="#1a1a1a" transform="rotate(-90 297.2 318.5)" stroke="#1a1a1a" stroke-width="0.35">Platelet count (&#215;10<tspan font-size="5.5" dy="-2.8">3</tspan><tspan dy="2.8">/&#956;L)</tspan></text>
<line x1="413.4" y1="294.3" x2="426.5" y2="294.3" stroke="#bdbdbd" stroke-width="1.1"/>
<circle cx="420" cy="294.3" r="1.9" fill="#c0c0c0" stroke="none" stroke-width="1"/>
<text x="429.5" y="296.4" font-size="6.1" textLength="49.5" lengthAdjust="spacing">No ADC (n = 12)</text>
<line x1="413.4" y1="304.5" x2="426.5" y2="304.5" stroke="#5d87b3" stroke-width="1.1"/>
<rect x="418.2" y="302.7" width="3.6" height="3.6" fill="#1d3f69" stroke="none" stroke-width="1"/>
<text x="429.5" y="306.6" font-size="6.1" textLength="74.3" lengthAdjust="spacing">CD45 BC8-PBD (n = 14)</text>
<line x1="413.4" y1="315.1" x2="426.5" y2="315.1" stroke="#3dbb5a" stroke-width="1.1"/>
<polygon points="417.9,316.7 422.1,316.7 420,313" fill="#3dbb5a"/>
<text x="429.5" y="317.2" font-size="6.1" textLength="83.5" lengthAdjust="spacing">mIgG1 Isotype-PBD (n = 10)</text>
<text x="7.8" y="492.8" font-size="10.4" font-weight="bold" fill="#000" stroke="#000" stroke-width="0.55">E</text>
<text x="101.55" y="491.8" font-size="8.3" text-anchor="middle" textLength="60.5" lengthAdjust="spacingAndGlyphs">Peripheral blood</text>
<line x1="71.3" y1="492.9" x2="131.8" y2="492.9" stroke="#444" stroke-width="0.8"/>
<text x="73.8" y="503.6" font-size="6.4" text-anchor="middle" textLength="11" lengthAdjust="spacingAndGlyphs" fill="#2a2a2a">d+7</text>
<text x="73.5" y="511.8" font-size="6.4" text-anchor="middle" textLength="38" lengthAdjust="spacingAndGlyphs" fill="#2a2a2a">ADC infusion</text>
<line x1="46.5" y1="506.5" x2="46.5" y2="614.5" stroke="#111" stroke-width="1.3"/>
<line x1="45.9" y1="613.9" x2="155.6" y2="613.9" stroke="#111" stroke-width="1.3"/>
<line x1="43.5" y1="613.9" x2="46.5" y2="613.9" stroke="#111" stroke-width="1"/>
<text x="40.5" y="616.2" font-size="6.6" text-anchor="end" fill="#2a2a2a">0</text>
<line x1="43.5" y1="603.4" x2="46.5" y2="603.4" stroke="#111" stroke-width="1"/>
<text x="40.5" y="605.7" font-size="6.6" text-anchor="end" fill="#2a2a2a">10</text>
<line x1="43.5" y1="592.9" x2="46.5" y2="592.9" stroke="#111" stroke-width="1"/>
<text x="40.5" y="595.2" font-size="6.6" text-anchor="end" fill="#2a2a2a">20</text>
<line x1="43.5" y1="582.4" x2="46.5" y2="582.4" stroke="#111" stroke-width="1"/>
<text x="40.5" y="584.7" font-size="6.6" text-anchor="end" fill="#2a2a2a">30</text>
<line x1="43.5" y1="571.9" x2="46.5" y2="571.9" stroke="#111" stroke-width="1"/>
<text x="40.5" y="574.2" font-size="6.6" text-anchor="end" fill="#2a2a2a">40</text>
<line x1="43.5" y1="561.4" x2="46.5" y2="561.4" stroke="#111" stroke-width="1"/>
<text x="40.5" y="563.7" font-size="6.6" text-anchor="end" fill="#2a2a2a">50</text>
<line x1="43.5" y1="550.9" x2="46.5" y2="550.9" stroke="#111" stroke-width="1"/>
<text x="40.5" y="553.2" font-size="6.6" text-anchor="end" fill="#2a2a2a">60</text>
<line x1="43.5" y1="540.4" x2="46.5" y2="540.4" stroke="#111" stroke-width="1"/>
<text x="40.5" y="542.7" font-size="6.6" text-anchor="end" fill="#2a2a2a">70</text>
<line x1="43.5" y1="529.9" x2="46.5" y2="529.9" stroke="#111" stroke-width="1"/>
<text x="40.5" y="532.2" font-size="6.6" text-anchor="end" fill="#2a2a2a">80</text>
<line x1="43.5" y1="519.4" x2="46.5" y2="519.4" stroke="#111" stroke-width="1"/>
<text x="40.5" y="521.7" font-size="6.6" text-anchor="end" fill="#2a2a2a">90</text>
<line x1="43.5" y1="508.9" x2="46.5" y2="508.9" stroke="#111" stroke-width="1"/>
<text x="40.5" y="511.2" font-size="6.6" text-anchor="end" fill="#2a2a2a">100</text>
<line x1="46.5" y1="613.9" x2="46.5" y2="616.9" stroke="#111" stroke-width="1"/>
<text x="46.5" y="626.6" font-size="6.6" text-anchor="middle" fill="#2a2a2a">0</text>
<line x1="73.12" y1="613.9" x2="73.12" y2="616.9" stroke="#111" stroke-width="1"/>
<text x="73.12" y="626.6" font-size="6.6" text-anchor="middle" fill="#2a2a2a">1</text>
<line x1="99.74" y1="613.9" x2="99.74" y2="616.9" stroke="#111" stroke-width="1"/>
<text x="99.74" y="626.6" font-size="6.6" text-anchor="middle" fill="#2a2a2a">2</text>
<line x1="126.36" y1="613.9" x2="126.36" y2="616.9" stroke="#111" stroke-width="1"/>
<text x="126.36" y="626.6" font-size="6.6" text-anchor="middle" fill="#2a2a2a">3</text>
<line x1="152.98" y1="613.9" x2="152.98" y2="616.9" stroke="#111" stroke-width="1"/>
<text x="152.98" y="626.6" font-size="6.6" text-anchor="middle" fill="#2a2a2a">4</text>
<line x1="73.3" y1="516" x2="73.3" y2="613.9" stroke="#999" stroke-width="0.7"/>
<polyline points="46.5,613.9 73.12,609.7 99.74,560.35 152.98,568.23" fill="none" stroke="#a0a0a0" stroke-width="0.6" stroke-opacity="0.32"/>
<polyline points="46.5,613.9 73.12,607.6 99.74,567.7 152.98,571.9" fill="none" stroke="#a0a0a0" stroke-width="0.6" stroke-opacity="0.32"/>
<polyline points="46.5,613.9 73.12,610.75 99.74,573.58 152.98,577.15" fill="none" stroke="#a0a0a0" stroke-width="0.6" stroke-opacity="0.32"/>
<polyline points="46.5,613.9 73.12,608.65 99.74,576.1 152.98,583.55" fill="none" stroke="#a0a0a0" stroke-width="0.6" stroke-opacity="0.32"/>
<polyline points="46.5,613.9 73.12,611.8 99.74,599.83 152.98,556.15" fill="none" stroke="#a0a0a0" stroke-width="0.6" stroke-opacity="0.32"/>
<polyline points="46.5,613.9 73.12,609.7 99.74,569.8 152.98,578.93" fill="none" stroke="#a0a0a0" stroke-width="0.6" stroke-opacity="0.32"/>
<polyline points="46.5,613.9 73.12,610.75 99.74,604.45 152.98,610.75" fill="none" stroke="#a0a0a0" stroke-width="0.6" stroke-opacity="0.32"/>
<polyline points="46.5,613.9 73.12,611.8 99.74,582.4 152.98,588.7" fill="none" stroke="#a0a0a0" stroke-width="0.6" stroke-opacity="0.32"/>
<polyline points="46.5,613.9 73.12,608.65 99.74,566.65 152.98,592.9" fill="none" stroke="#6fc27d" stroke-width="0.6" stroke-opacity="0.4"/>
<polyline points="46.5,613.9 73.12,607.6 99.74,570.85 152.98,595" fill="none" stroke="#6fc27d" stroke-width="0.6" stroke-opacity="0.4"/>
<polyline points="46.5,613.9 73.12,610.75 99.74,575.05 152.98,598.15" fill="none" stroke="#6fc27d" stroke-width="0.6" stroke-opacity="0.4"/>
<polyline points="46.5,613.9 73.12,605.5 99.74,577.15 152.98,590.8" fill="none" stroke="#6fc27d" stroke-width="0.6" stroke-opacity="0.4"/>
<polyline points="46.5,613.9 73.12,609.7 99.74,582.4 152.98,599.2" fill="none" stroke="#6fc27d" stroke-width="0.6" stroke-opacity="0.4"/>
<polyline points="46.5,613.9 73.12,608.65 99.74,579.25 152.98,596.05" fill="none" stroke="#6fc27d" stroke-width="0.6" stroke-opacity="0.4"/>
<polyline points="46.5,613.9 73.12,606.55 99.74,583.45 152.98,600.25" fill="none" stroke="#6fc27d" stroke-width="0.6" stroke-opacity="0.4"/>
<polyline points="46.5,613.9 73.12,611.8 99.74,569.8 152.98,593.95" fill="none" stroke="#6fc27d" stroke-width="0.6" stroke-opacity="0.4"/>
<polyline points="46.5,613.9 73.12,598.78 99.74,611.8 152.98,601.3" fill="none" stroke="#6b98c6" stroke-width="0.6" stroke-opacity="0.35"/>
<polyline points="46.5,613.9 73.12,607.6 99.74,612.85 152.98,603.4" fill="none" stroke="#6b98c6" stroke-width="0.6" stroke-opacity="0.35"/>
<polyline points="46.5,613.9 73.12,605.5 99.74,613.38 152.98,607.6" fill="none" stroke="#6b98c6" stroke-width="0.6" stroke-opacity="0.35"/>
<polyline points="46.5,613.9 73.12,610.75 99.74,612.85 152.98,599.2" fill="none" stroke="#6b98c6" stroke-width="0.6" stroke-opacity="0.35"/>
<polyline points="46.5,613.9 73.12,603.4 99.74,611.8 152.98,608.65" fill="none" stroke="#6b98c6" stroke-width="0.6" stroke-opacity="0.35"/>
<polyline points="46.5,613.9 73.12,609.7 99.74,613.38 152.98,605.5" fill="none" stroke="#6b98c6" stroke-width="0.6" stroke-opacity="0.35"/>
<polyline points="46.5,613.9 73.12,606.55 99.74,612.85 152.98,610.75" fill="none" stroke="#6b98c6" stroke-width="0.6" stroke-opacity="0.35"/>
<polyline points="46.5,613.9 73.12,608.65 99.74,612.85 152.98,604.45" fill="none" stroke="#6b98c6" stroke-width="0.6" stroke-opacity="0.35"/>
<line x1="73.12" y1="598.78" x2="73.12" y2="611.8" stroke="#c0c0c0" stroke-width="0.6" stroke-dasharray="1,1.2"/>
<line x1="99.74" y1="560.35" x2="99.74" y2="604.45" stroke="#c8c8c8" stroke-width="0.6" stroke-dasharray="1,1.2"/>
<line x1="152.98" y1="556.15" x2="152.98" y2="610.75" stroke="#c8c8c8" stroke-width="0.6" stroke-dasharray="1,1.2"/>
<polygon points="46.5,613.9 73.12,608.86 99.74,572.42 152.98,576.31 152.98,581.56 99.74,577.67 73.12,610.54 46.5,613.9" fill="#cccccc" fill-opacity="0.3"/>
<polygon points="46.5,613.9 73.12,606.02 99.74,575.57 152.98,592.69 152.98,598.99 99.74,581.88 73.12,610.23 46.5,613.9" fill="#a6dcae" fill-opacity="0.45"/>
<polygon points="46.5,613.9 73.12,604.87 99.74,611.8 152.98,598.04 152.98,609.6 99.74,613.48 73.12,611.17 46.5,613.9" fill="#9dbde0" fill-opacity="0.4"/>
<polyline points="46.5,613.9 73.12,609.7 99.74,575.05 152.98,578.93" fill="none" stroke="#b0b0b0" stroke-width="0.9"/>
<polyline points="46.5,613.9 73.12,608.12 99.74,578.73 152.98,595.84" fill="none" stroke="#52ab62" stroke-width="1.05"/>
<polyline points="46.5,613.9 73.12,608.02 99.74,612.64 152.98,603.82" fill="none" stroke="#2e5d90" stroke-width="1"/>
<polygon points="151.38,605.02 154.58,605.02 152.98,602.22" fill="#1d3f69"/>
<rect x="151.58" y="594.44" width="2.8" height="2.8" fill="#46a457" stroke="none" stroke-width="1"/>
<circle cx="152.98" cy="578.93" r="1.3" fill="#a8a8a8" stroke="none" stroke-width="1"/>
<text x="99.65" y="639.9" font-size="8.4" text-anchor="middle" textLength="47.7" lengthAdjust="spacingAndGlyphs" fill="#1a1a1a" stroke="#1a1a1a" stroke-width="0.35">Weeks post HSCT</text>
<text x="23.3" y="561.6" font-size="8.6" text-anchor="middle" textLength="26.6" lengthAdjust="spacingAndGlyphs" fill="#1a1a1a" transform="rotate(-90 23.3 561.6)" stroke="#1a1a1a" stroke-width="0.35">%hCD45<tspan font-size="5.5" dy="-2.8">+</tspan></text>
<line x1="108.3" y1="521" x2="121.5" y2="521" stroke="#bdbdbd" stroke-width="1.1"/>
<circle cx="114.7" cy="521" r="1.9" fill="#c0c0c0" stroke="none" stroke-width="1"/>
<text x="123.8" y="523.1" font-size="6.1" textLength="46.4" lengthAdjust="spacing">No ADC (n = 8)</text>
<line x1="108.3" y1="531.2" x2="121.5" y2="531.2" stroke="#3aa052" stroke-width="1.1"/>
<rect x="112.9" y="529.4" width="3.6" height="3.6" fill="#3aa052" stroke="none" stroke-width="1"/>
<text x="123.8" y="533.3" font-size="6.1" textLength="49.1" lengthAdjust="spacing">ISO-PBD (n = 8)</text>
<line x1="108.3" y1="541.6" x2="121.5" y2="541.6" stroke="#2a5a8c" stroke-width="1.1"/>
<polygon points="112.6,543.2 116.8,543.2 114.7,539.5" fill="#1d3f69"/>
<text x="123.8" y="543.7" font-size="6.1" textLength="55.2" lengthAdjust="spacing">CD45-PBD (n = 8)</text>
<line x1="187.5" y1="517.5" x2="187.5" y2="527.6" stroke="#333" stroke-width="1.1"/>
<text x="189" y="522.7" font-size="5.6" text-anchor="middle" fill="#333" transform="rotate(90 189 522.7)">ns</text>
<line x1="187.5" y1="534.5" x2="187.5" y2="545" stroke="#333" stroke-width="1.1"/>
<text x="187.6" y="539.6" font-size="6.8" text-anchor="middle" fill="#222" transform="rotate(90 187.6 539.6)">***</text>
<line x1="199.5" y1="517.5" x2="199.5" y2="545" stroke="#333" stroke-width="1.1"/>
<text x="200.1" y="531.2" font-size="6.8" text-anchor="middle" fill="#222" transform="rotate(90 200.1 531.2)">****</text>
<text x="294.5" y="492.6" font-size="7.6" text-anchor="middle" textLength="51.2" lengthAdjust="spacingAndGlyphs">Bone marrow</text>
<line x1="268.8" y1="494" x2="320" y2="494" stroke="#555" stroke-width="0.7"/>
<text x="294.4" y="503" font-size="7.6" text-anchor="middle" textLength="82.7" lengthAdjust="spacingAndGlyphs">(1 month post-HSCT)</text>
<line x1="253" y1="504.4" x2="335.7" y2="504.4" stroke="#555" stroke-width="0.7"/>
<line x1="275" y1="518.8" x2="312" y2="518.8" stroke="#555" stroke-width="1"/>
<text x="293.6" y="520" font-size="7" text-anchor="middle" fill="#222">**</text>
<line x1="275" y1="528.9" x2="289.5" y2="528.9" stroke="#555" stroke-width="1"/>
<text x="282.6" y="527.3" font-size="5.8" text-anchor="middle" fill="#333">ns</text>
<line x1="298.3" y1="528.9" x2="312.6" y2="528.9" stroke="#555" stroke-width="1"/>
<text x="305.5" y="530" font-size="7" text-anchor="middle" fill="#222">*</text>
<line x1="263.8" y1="520" x2="263.8" y2="614.7" stroke="#111" stroke-width="1.3"/>
<line x1="263.2" y1="614.1" x2="324.7" y2="614.1" stroke="#111" stroke-width="1.3"/>
<line x1="260.8" y1="614.1" x2="263.8" y2="614.1" stroke="#111" stroke-width="1"/>
<text x="258.6" y="616.4" font-size="6.6" text-anchor="end" fill="#2a2a2a">0</text>
<line x1="260.8" y1="595.9" x2="263.8" y2="595.9" stroke="#111" stroke-width="1"/>
<text x="257.2" y="598.2" font-size="6.6" text-anchor="end" textLength="16.5" lengthAdjust="spacingAndGlyphs" fill="#2a2a2a">1&#215;10</text>
<text x="257.4" y="595.2" font-size="4.4" fill="#2a2a2a">5</text>
<line x1="260.8" y1="577.7" x2="263.8" y2="577.7" stroke="#111" stroke-width="1"/>
<text x="257.2" y="580" font-size="6.6" text-anchor="end" textLength="16.5" lengthAdjust="spacingAndGlyphs" fill="#2a2a2a">2&#215;10</text>
<text x="257.4" y="577" font-size="4.4" fill="#2a2a2a">5</text>
<line x1="260.8" y1="559.5" x2="263.8" y2="559.5" stroke="#111" stroke-width="1"/>
<text x="257.2" y="561.8" font-size="6.6" text-anchor="end" textLength="16.5" lengthAdjust="spacingAndGlyphs" fill="#2a2a2a">3&#215;10</text>
<text x="257.4" y="558.8" font-size="4.4" fill="#2a2a2a">5</text>
<line x1="260.8" y1="541.3" x2="263.8" y2="541.3" stroke="#111" stroke-width="1"/>
<text x="257.2" y="543.6" font-size="6.6" text-anchor="end" textLength="16.5" lengthAdjust="spacingAndGlyphs" fill="#2a2a2a">4&#215;10</text>
<text x="257.4" y="540.6" font-size="4.4" fill="#2a2a2a">5</text>
<line x1="260.8" y1="523.1" x2="263.8" y2="523.1" stroke="#111" stroke-width="1"/>
<text x="257.2" y="525.4" font-size="6.6" text-anchor="end" textLength="16.5" lengthAdjust="spacingAndGlyphs" fill="#2a2a2a">5&#215;10</text>
<text x="257.4" y="522.4" font-size="4.4" fill="#2a2a2a">5</text>
<line x1="276" y1="614.1" x2="276" y2="617.1" stroke="#111" stroke-width="1"/>
<line x1="294.5" y1="614.1" x2="294.5" y2="617.1" stroke="#111" stroke-width="1"/>
<line x1="312.4" y1="614.1" x2="312.4" y2="617.1" stroke="#111" stroke-width="1"/>
<rect x="270.8" y="579.88" width="11" height="34.22" fill="#bfbfbf" stroke="none" stroke-width="1"/>
<rect x="288.8" y="588.26" width="11" height="25.84" fill="#3dbb5a" stroke="none" stroke-width="1"/>
<rect x="306.7" y="608.64" width="11" height="5.46" fill="#23466f" stroke="none" stroke-width="1"/>
<line x1="276.3" y1="570.42" x2="276.3" y2="589.35" stroke="#111" stroke-width="0.9"/>
<line x1="273.5" y1="570.42" x2="279.1" y2="570.42" stroke="#111" stroke-width="0.9"/>
<line x1="294.3" y1="582.61" x2="294.3" y2="594.08" stroke="#111" stroke-width="0.9"/>
<line x1="291.5" y1="582.61" x2="297.1" y2="582.61" stroke="#111" stroke-width="0.9"/>
<line x1="312.2" y1="605.55" x2="312.2" y2="611.73" stroke="#111" stroke-width="0.9"/>
<line x1="309.4" y1="605.55" x2="315" y2="605.55" stroke="#111" stroke-width="0.9"/>
<circle cx="276.3" cy="541.3" r="1.15" fill="#111" stroke="none" stroke-width="1"/>
<circle cx="276.3" cy="554.95" r="1.15" fill="#111" stroke="none" stroke-width="1"/>
<circle cx="276.3" cy="581.34" r="1.15" fill="#111" stroke="none" stroke-width="1"/>
<circle cx="274.6" cy="585.89" r="1.15" fill="#111" stroke="none" stroke-width="1"/>
<circle cx="278.4" cy="585.89" r="1.15" fill="#111" stroke="none" stroke-width="1"/>
<circle cx="273.3" cy="602.27" r="1.15" fill="#111" stroke="none" stroke-width="1"/>
<circle cx="279.3" cy="602.27" r="1.15" fill="#111" stroke="none" stroke-width="1"/>
<circle cx="294.5" cy="570.42" r="1.15" fill="#111" stroke="none" stroke-width="1"/>
<circle cx="291.5" cy="575.52" r="1.15" fill="#111" stroke="none" stroke-width="1"/>
<circle cx="297.3" cy="575.52" r="1.15" fill="#111" stroke="none" stroke-width="1"/>
<circle cx="293.9" cy="587.71" r="1.15" fill="#111" stroke="none" stroke-width="1"/>
<circle cx="295.2" cy="595.9" r="1.15" fill="#111" stroke="none" stroke-width="1"/>
<circle cx="294" cy="608.64" r="1.15" fill="#111" stroke="none" stroke-width="1"/>
<circle cx="312.4" cy="595.35" r="1.15" fill="#111" stroke="none" stroke-width="1"/>
<circle cx="312" cy="604.45" r="1.15" fill="#111" stroke="none" stroke-width="1"/>
<circle cx="310.2" cy="610.46" r="1.15" fill="#111" stroke="none" stroke-width="1"/>
<circle cx="314" cy="610.1" r="1.15" fill="#111" stroke="none" stroke-width="1"/>
<circle cx="311.5" cy="612.28" r="1.15" fill="#111" stroke="none" stroke-width="1"/>
<circle cx="313.5" cy="612.64" r="1.15" fill="#111" stroke="none" stroke-width="1"/>
<circle cx="309" cy="612.28" r="1.15" fill="#111" stroke="none" stroke-width="1"/>
<circle cx="315.5" cy="611.92" r="1.15" fill="#111" stroke="none" stroke-width="1"/>
<text x="231.6" y="567.6" font-size="8.6" text-anchor="middle" textLength="64" lengthAdjust="spacingAndGlyphs" fill="#1a1a1a" transform="rotate(-90 231.6 567.6)" stroke="#1a1a1a" stroke-width="0.35">CD34<tspan font-size="5.5" dy="-2.8">+</tspan><tspan dy="2.8"> cells per femur</tspan></text>
<text x="276" y="624.1" font-size="7" text-anchor="end" textLength="46.5" lengthAdjust="spacingAndGlyphs" transform="rotate(-45 276 624.1)">No ADC (n = 7)</text>
<text x="294.3" y="624.1" font-size="7" text-anchor="end" textLength="58.5" lengthAdjust="spacingAndGlyphs" transform="rotate(-45 294.3 624.1)">Isotype-PBD (n = 7)</text>
<text x="313" y="624.1" font-size="7" text-anchor="end" textLength="70.4" lengthAdjust="spacingAndGlyphs" transform="rotate(-45 313 624.1)">CD45 BC8-PBD (n = 8)</text>
<rect x="0.5" y="0.5" width="519" height="681" fill="none" stroke="#333" stroke-width="1"/>
</svg></body></html>
